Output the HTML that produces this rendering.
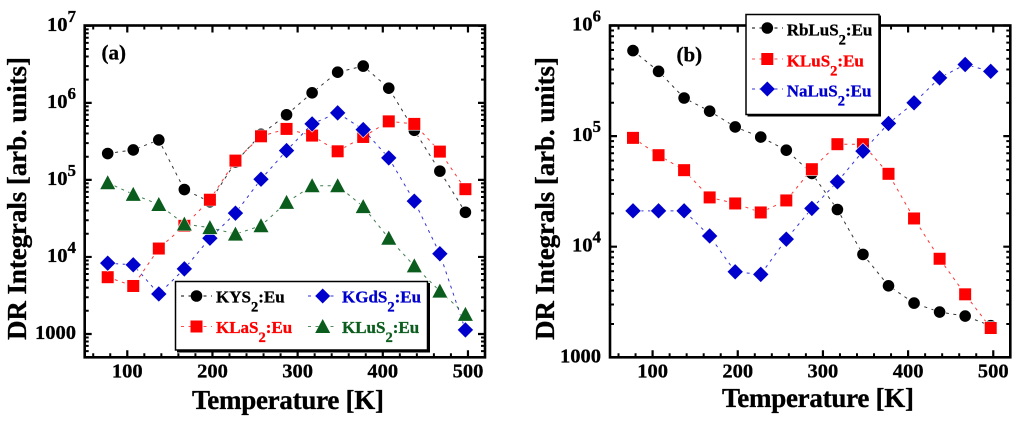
<!DOCTYPE html>
<html lang="en">
<head>
<meta charset="utf-8">
<title>DR Integrals vs Temperature</title>
<style>
html,body{margin:0;padding:0;background:#fff;width:1024px;height:430px;overflow:hidden}
svg{display:block;filter:blur(0.35px)}
text{font-family:"Liberation Serif",serif;font-weight:bold;fill:#000;stroke:#000;stroke-width:.3px}
.tick{font-size:20.5px}
.title{font-size:27px}
.leg{font-size:17px}
.red{fill:#f00;stroke:#f00}
.blue{fill:#0000cd;stroke:#0000cd}
.green{fill:#0b5d1e;stroke:#0b5d1e}
</style>
</head>
<body>
<svg id="chart" xmlns="http://www.w3.org/2000/svg" width="1024" height="430" viewBox="0 0 1024 430">
  <rect width="1024" height="430" fill="#fff"/>
  <g id="panel-a"></g>
  <g id="panel-b"></g>

  <text class="title" x="192" y="409" textLength="192" lengthAdjust="spacing">Temperature [K]</text>
  <text class="title" transform="translate(26,340) rotate(-90)" textLength="283" lengthAdjust="spacing">DR Integrals [arb. units]</text>
  <text x="101.5" y="59.5" font-size="21">(a)</text>

  <text class="title" x="722" y="407" textLength="192" lengthAdjust="spacing">Temperature [K]</text>
  <text class="title" transform="translate(554,340) rotate(-90)" textLength="283" lengthAdjust="spacing">DR Integrals [arb. units]</text>
  <text x="676.5" y="61.5" font-size="21">(b)</text>

  <g>
    <rect x="177" y="283" width="253" height="69.5" fill="#000"/>
    <rect x="175.5" y="281.5" width="252" height="68.5" fill="#fff" stroke="#000" stroke-width="1.5"/>
    <g>
      <line x1="181" y1="296" x2="212" y2="296" stroke="#000" stroke-dasharray="3 4.5"/>
      <circle cx="196.5" cy="296" r="5.8" fill="#000"/>
      <text class="leg" x="216" y="302.3">KYS<tspan font-size="14.5" dy="9">2</tspan><tspan dy="-9">:Eu</tspan></text>
    </g>
    <g>
      <line x1="181" y1="326.5" x2="212" y2="326.5" stroke="#f00" stroke-dasharray="3 4.5" opacity=".7"/>
      <rect x="190.5" y="320.5" width="12" height="12" fill="#f00"/>
      <text class="leg red" x="216" y="333">KLaS<tspan font-size="14.5" dy="9">2</tspan><tspan dy="-9">:Eu</tspan></text>
    </g>
    <g>
      <line x1="308" y1="296" x2="338" y2="296" stroke="#0000cd" stroke-dasharray="3 4.5" opacity=".8"/>
      <polygon points="322.7,288.5 330.2,296 322.7,303.5 315.2,296" fill="#0000cd"/>
      <text class="leg blue" x="342" y="302.3">KGdS<tspan font-size="14.5" dy="9">2</tspan><tspan dy="-9">:Eu</tspan></text>
    </g>
    <g>
      <line x1="308" y1="326.5" x2="338" y2="326.5" stroke="#0b5d1e" stroke-dasharray="3 4.5" opacity=".7"/>
      <polygon points="322.7,319 330.2,333 315.2,333" fill="#0b5d1e"/>
      <text class="leg green" x="342" y="333">KLuS<tspan font-size="14.5" dy="9">2</tspan><tspan dy="-9">:Eu</tspan></text>
    </g>
  </g>

  <g>
    <rect x="747.5" y="15.5" width="133.5" height="101" fill="#000"/>
    <rect x="746" y="14.5" width="133" height="100" fill="#fff" stroke="#000" stroke-width="1.5"/>
    <g>
      <line x1="752" y1="28" x2="783" y2="28" stroke="#000" stroke-dasharray="3 4.5"/>
      <circle cx="767.3" cy="28" r="5.8" fill="#000"/>
      <text class="leg" x="786.7" y="35.7">RbLuS<tspan font-size="14.5" dy="9">2</tspan><tspan dy="-9">:Eu</tspan></text>
    </g>
    <g>
      <line x1="752" y1="59" x2="783" y2="59" stroke="#f00" stroke-dasharray="3 4.5" opacity=".7"/>
      <rect x="761.3" y="53" width="12" height="12" fill="#f00"/>
      <text class="leg red" x="786.7" y="66.7">KLuS<tspan font-size="14.5" dy="9">2</tspan><tspan dy="-9">:Eu</tspan></text>
    </g>
    <g>
      <line x1="752" y1="89" x2="783" y2="89" stroke="#0000cd" stroke-dasharray="3 4.5" opacity=".8"/>
      <polygon points="767.3,81.5 774.8,89 767.3,96.5 759.8,89" fill="#0000cd"/>
      <text class="leg blue" x="786.7" y="96.7">NaLuS<tspan font-size="14.5" dy="9">2</tspan><tspan dy="-9">:Eu</tspan></text>
    </g>
  </g>
</svg>

<script>
// ---- data ----
const temperatures = [77,107,137,167,197,227,257,287,317,347,377,407,437,467,497];
const xTickLabels = [100,200,300,400,500];
const yTickExponentsA = [3,4,5,6,7];
const yTickExponentsB = [3,4,5,6];

const kysValues  = [220000,245000,330000,75000,52000,170000,390000,700000,1350000,2500000,3000000,1550000,440000,130000,38000];
const klasValues = [5460,4200,12860,25350,55300,178000,368000,459000,376000,235000,361000,575000,533000,233000,75800];
const kgdsValues = [8300,7900,3310,7000,17500,37000,102000,240000,533000,741000,450000,193000,53000,11000,1130];
const kluValuesA = [92000,65000,48000,26700,24000,19800,25400,51000,84000,84000,45000,17500,7650,3600,1800];

const rbluValues = [593000,385000,221000,168000,121000,98000,74600,46000,21700,8520,4430,3090,2565,2360,1930];
const kluValuesB = [96400,67200,49200,27900,24600,20400,26200,50200,84500,84500,45600,18000,7780,3710,1840];
const naluValues = [21100,21100,21100,12500,5930,5620,11700,22200,38600,73100,130000,200000,336000,444000,385000];

// ---- layout ----
const NS = 'http://www.w3.org/2000/svg';
const BLACK = '#000', RED = '#f00', BLUE = '#0000cd', GREEN = '#0b5d1e';

function mk(parent, tag, attrs) {
  const el = document.createElementNS(NS, tag);
  for (const k in attrs) el.setAttribute(k, attrs[k]);
  parent.appendChild(el);
  return el;
}

function makeScales(p) {
  p.x = t => p.left + (t - 50) * (p.right - p.left) / 470;
  p.y = v => p.y1000 - (Math.log10(v) - 3) * p.decade;
  return p;
}

const panelA = makeScales({id:'panel-a', key:'a', left:84.7, right:485, top:25.5, bottom:357.3, y1000:334, decade:77.05, yMin:500, yMax:1e7, labelRight:76, xLabelY:377.3, exps:yTickExponentsA});
const panelB = makeScales({id:'panel-b', key:'b', left:610, right:1010.3, top:25.5, bottom:357.3, y1000:357.3, decade:110.6, yMin:1000, yMax:1e6, labelRight:601, xLabelY:377.3, exps:yTickExponentsB});

function drawAxes(p) {
  const g = document.getElementById(p.id);
  let major = '', minor = '';
  for (let t = 60; t < 520; t += 20) {
    const x = p.x(t), len = (t % 100 === 0) ? 7 : 4;
    const seg = 'M' + x + ' ' + p.bottom + 'v' + (-len) + 'M' + x + ' ' + p.top + 'v' + len;
    if (t % 100 === 0) major += seg; else minor += seg;
  }
  for (let e = 2; e < 8; e++) {
    for (let m = 1; m < 10; m++) {
      const v = m * Math.pow(10, e);
      if (v < p.yMin || v > p.yMax) continue;
      const y = p.y(v), len = (m === 1) ? 7 : 4;
      const seg = 'M' + p.left + ' ' + y + 'h' + len + 'M' + p.right + ' ' + y + 'h' + (-len);
      if (m === 1) major += seg; else minor += seg;
    }
  }
  const minorPath = mk(g, 'path', {d:minor, stroke:'#000', 'stroke-width':2, fill:'none'});
  
  
  const majorPath = mk(g, 'path', {d:major, stroke:'#000', 'stroke-width':2.2, fill:'none'});
  
  
  const frame = mk(g, 'rect', {x:p.left, y:p.top, width:p.right - p.left, height:p.bottom - p.top, fill:'none', stroke:'#000', 'stroke-width':2.6});
  
  

  xTickLabels.forEach(t => {
    const label = mk(g, 'text', {class:'tick', x:p.x(t), y:p.xLabelY, 'text-anchor':'middle'});
    
    
    label.textContent = t;
  });
  p.exps.forEach(e => {
    const y = p.y(Math.pow(10, e)) + 5;
    const label = mk(g, 'text', {class:'tick', x:p.labelRight, y:y, 'text-anchor':'end'});
    
    
    if (e === 3) {
      label.textContent = '1000';
    } else {
      label.textContent = '10';
      const sup = mk(label, 'tspan', {'font-size':17, dy:-9});
      sup.textContent = e;
    }
  });
}

function marker(g, shape, cx, cy, color) {
  const halo = {stroke:'#fff', 'stroke-width':1.6, 'stroke-opacity':0.75, 'paint-order':'stroke', fill:color};
  if (shape === 'circle') return mk(g, 'circle', Object.assign({cx:cx, cy:cy, r:5.8}, halo));
  if (shape === 'square') return mk(g, 'rect', Object.assign({x:cx - 6, y:cy - 6, width:12, height:12}, halo));
  if (shape === 'diamond') return mk(g, 'polygon', Object.assign({points:[cx,cy-7.7,cx+7.7,cy,cx,cy+7.7,cx-7.7,cy].join(' ')}, halo));
  return mk(g, 'polygon', Object.assign({points:[cx,cy-7.5,cx+7.5,cy+6.5,cx-7.5,cy+6.5].join(' ')}, halo));
}

function drawSeries(p, name, values, color, shape) {
  const root = document.getElementById(p.id);
  const g = mk(root, 'g', {});
  
  
  const pts = values.map((v, i) => [p.x(temperatures[i]), p.y(v)]);
  const line = mk(g, 'polyline', {points:pts.map(q => q.join(',')).join(' '), fill:'none', stroke:color, 'stroke-width':1, 'stroke-dasharray':'3 4.5', opacity:0.8});
  
  
  pts.forEach((q, i) => {
    const m = marker(g, shape, q[0], q[1], color);
    
    
  });
}

drawAxes(panelA);
drawSeries(panelA, 'kys', kysValues, BLACK, 'circle');
drawSeries(panelA, 'klas', klasValues, RED, 'square');
drawSeries(panelA, 'kgds', kgdsValues, BLUE, 'diamond');
drawSeries(panelA, 'klus', kluValuesA, GREEN, 'triangle');

drawAxes(panelB);
drawSeries(panelB, 'rblus', rbluValues, BLACK, 'circle');
drawSeries(panelB, 'klus-b', kluValuesB, RED, 'square');
drawSeries(panelB, 'nalus', naluValues, BLUE, 'diamond');
</script>
</body>
</html>
